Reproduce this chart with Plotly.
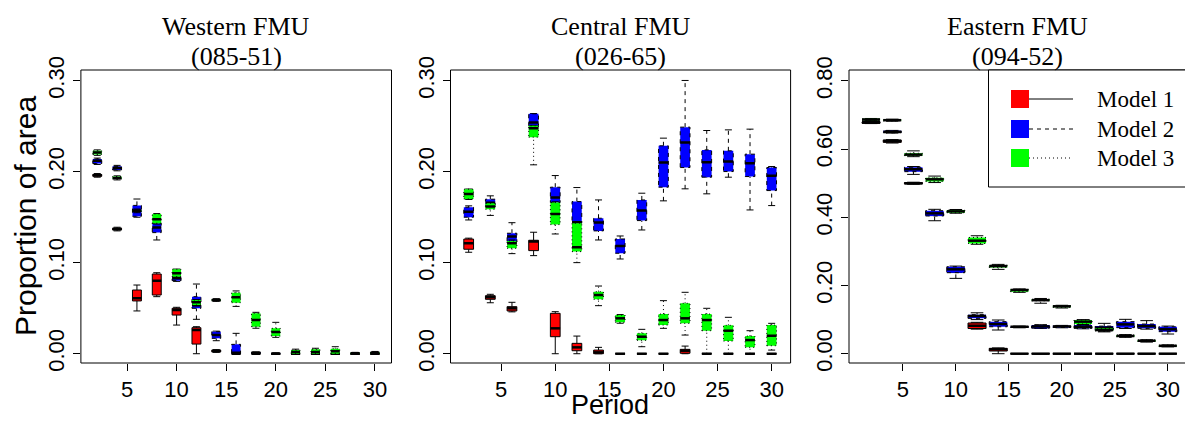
import plotly.graph_objects as go

PERIODS = list(range(2, 31, 2))

# ---- Western FMU (085-51) ----
west_m1_lo  = [.194, .135, .047, .0627, .0315, 0, .0015, 0, 0, 0, 0, 0, 0, 0, 0]
west_m1_q1  = [.195, .136, .058, .0645, .0425, .0106, .002, 0, 0, 0, 0, 0, 0, 0, 0]
west_m1_med = [.196, .137, .061, .0803, .048, .026, .003, 0, 0, 0, 0, 0, 0, 0, 0]
west_m1_q3  = [.197, .138, .070, .0876, .0499, .0286, .004, 0, 0, 0, 0, 0, 0, 0, 0]
west_m1_hi  = [.198, .139, .0755, .089, .051, .0297, .0045, 0, 0, 0, 0, 0, 0, 0, 0]

west_m2_lo  = [.208, .201, .150, .125, .0795, .0378, .0143, 0, 0, 0, 0, 0, 0, 0, 0]
west_m2_q1  = [.209, .202, .151, .1331, .0803, .0499, .0169, 0, .0005, 0, 0, 0, 0, 0, 0]
west_m2_med = [.212, .204, .157, .1386, .083, .0535, .0205, .001, .001, 0, 0, 0, 0, 0, 0]
west_m2_q3  = [.214, .206, .163, .1434, .0847, .0627, .0242, .0103, .0015, .0005, 0, 0, 0, 0, 0]
west_m2_hi  = [.215, .207, .170, .1445, .085, .0766, .0248, .0224, .002, .001, 0, 0, 0, 0, 0]

west_m3_lo  = [.218, .191, .155, .1425, .0835, .0525, .0575, .052, .028, .018, 0, 0, 0, 0, 0]
west_m3_q1  = [.219, .192, .156, .1434, .0847, .0535, .058, .0561, .0297, .0194, 0, 0, 0, 0, 0]
west_m3_med = [.221, .193, .157, .1478, .0884, .0565, .059, .062, .037, .024, .002, .002, .0026, .0005, .001]
west_m3_q3  = [.223, .1947, .158, .1536, .0928, .059, .060, .0671, .0444, .0279, .004, .0048, .0055, .001, .002]
west_m3_hi  = [.224, .1955, .159, .154, .093, .0595, .0605, .069, .0455, .0345, .005, .006, .0077, .0015, .0025]

# ---- Central FMU (026-65) ----
cent_m1_lo  = [.1115, .056, .046, .1078, 0, 0, 0, 0, 0, 0, 0, 0, 0, 0, 0]
cent_m1_q1  = [.1148, .0598, .047, .1133, .0187, .0033, 0, 0, 0, 0, .0005, 0, 0, 0, 0]
cent_m1_med = [.1214, .062, .0499, .1232, .0279, .007, .0015, 0, 0, 0, .0033, 0, 0, 0, 0]
cent_m1_q3  = [.126, .0638, .0517, .1247, .0444, .0114, .004, 0, 0, 0, .0048, 0, 0, 0, 0]
cent_m1_hi  = [.127, .0653, .0565, .1335, .0462, .0194, .007, 0, 0, 0, .0084, 0, 0, 0, 0]

cent_m2_lo  = [.147, .1625, .1225, .248, .160, .140, .125, .1041, .136, .168, .1812, .1757, .194, .158, .1628]
cent_m2_q1  = [.150, .163, .1232, .2505, .1661, .1434, .135, .1104, .1463, .183, .2046, .194, .2002, .1947, .1793]
cent_m2_med = [.156, .166, .1287, .2541, .1716, .1445, .1441, .1184, .1573, .2101, .2321, .2105, .2112, .2094, .1955]
cent_m2_q3  = [.161, .1698, .1324, .2637, .183, .1672, .1489, .1261, .169, .2285, .249, .224, .223, .2193, .2046]
cent_m2_hi  = [.1625, .1735, .144, .264, .1958, .1826, .169, .1294, .1764, .2369, .3003, .2453, .246, .2468, .2057]

cent_m3_lo  = [.1695, .152, .110, .2076, .1316, .1001, .0528, .0335, .0077, .0279, .0205, 0, 0, 0, .004]
cent_m3_q1  = [.1701, .1588, .1159, .238, .1419, .1122, .0598, .0345, .0147, .0315, .0334, .0253, .0139, .007, .0088]
cent_m3_med = [.1755, .1617, .1214, .2479, .1536, .117, .0645, .0389, .0187, .037, .0389, .037, .0253, .015, .0198]
cent_m3_q3  = [.1808, .1654, .124, .2505, .1661, .1434, .0682, .0425, .0224, .0436, .0554, .0436, .0312, .0194, .0315]
cent_m3_hi  = [.181, .166, .125, .251, .167, .144, .0744, .043, .0268, .0583, .0675, .0499, .040, .0253, .0334]

# ---- Eastern FMU (094-52) ----
east_m1_lo  = [.675, .618, .497, .405, .238, .072, 0, 0, 0, 0, 0, 0, 0, 0, 0]
east_m1_q1  = [.676, .620, .498, .406, .240, .074, .0079, 0, 0, 0, 0, 0, 0, 0, 0]
east_m1_med = [.678, .6235, .500, .409, .245, .082, .0128, 0, 0, 0, 0, 0, 0, 0, 0]
east_m1_q3  = [.680, .627, .502, .412, .250, .090, .0157, 0, 0, 0, 0, 0, 0, 0, 0]
east_m1_hi  = [.681, .628, .503, .413, .252, .092, .017, 0, 0, 0, 0, 0, 0, 0, 0]

east_m2_lo  = [.678, .647, .526, .390, .221, .100, .0695, .076, .074, .076, .073, .066, .074, .072, .0577]
east_m2_q1  = [.679, .648, .534, .404, .2376, .1037, .079, .077, .075, .077, .0744, .0695, .0764, .0744, .0646]
east_m2_med = [.680, .651, .541, .4117, .2475, .1106, .087, .079, .080, .080, .079, .0764, .086, .081, .0715]
east_m2_q3  = [.681, .654, .547, .4195, .255, .1145, .094, .080, .084, .082, .084, .081, .094, .087, .079]
east_m2_hi  = [.682, .655, .549, .4235, .257, .120, .0988, .081, .085, .083, .086, .089, .1008, .097, .081]

east_m3_lo  = [.684, .682, .578, .502, .412, .321, .2474, .180, .148, .134, .085, .064, .048, .034, .020]
east_m3_q1  = [.685, .683, .581, .505, .4136, .3236, .253, .182, .155, .136, .087, .0666, .050, .036, .021]
east_m3_med = [.687, .685, .584, .5115, .4175, .3315, .257, .1868, .157, .139, .094, .0695, .052, .038, .023]
east_m3_q3  = [.689, .687, .588, .516, .4214, .341, .260, .1887, .160, .141, .0988, .0744, .055, .040, .025]
east_m3_hi  = [.690, .688, .595, .521, .423, .346, .262, .190, .162, .142, .100, .076, .056, .041, .026]

X_TICKS = [5, 10, 15, 20, 25, 30]
MODEL_NAMES = ["Model 1", "Model 2", "Model 3"]
MODEL_COLORS = ["#FF0000", "#0000FF", "#00FF00"]
LINE_DASH = ["solid", "4px,4px", "1px,3px"]

FIG_W, FIG_H = 1185, 422
SANS = "Liberation Sans, Arial, sans-serif"
SERIF = "Liberation Serif, Times New Roman, serif"
PLOT_TOP, PLOT_BOTTOM = 70, 363


def px(x):
    return x / FIG_W


def py(y):
    return 1 - y / FIG_H


panels = [
    dict(title=("Western FMU", "(085-51)"),
         stats=[(west_m1_lo, west_m1_q1, west_m1_med, west_m1_q3, west_m1_hi),
                (west_m2_lo, west_m2_q1, west_m2_med, west_m2_q3, west_m2_hi),
                (west_m3_lo, west_m3_q1, west_m3_med, west_m3_q3, west_m3_hi)],
         dom=(80.9, 391.5), xr=(0.35, 31.67), yr=(-0.0102, 0.3118),
         yt=[0, 0.1, 0.2, 0.3], bw=0.9, cap=5, closed=True, cx=236),
    dict(title=("Central FMU", "(026-65)"),
         stats=[(cent_m1_lo, cent_m1_q1, cent_m1_med, cent_m1_q3, cent_m1_hi),
                (cent_m2_lo, cent_m2_q1, cent_m2_med, cent_m2_q3, cent_m2_hi),
                (cent_m3_lo, cent_m3_q1, cent_m3_med, cent_m3_q3, cent_m3_hi)],
         dom=(450.5, 790.6), xr=(0.32, 31.75), yr=(-0.0102, 0.3118),
         yt=[0, 0.1, 0.2, 0.3], bw=0.9, cap=5, closed=True, cx=620.5),
    dict(title=("Eastern FMU", "(094-52)"),
         stats=[(east_m1_lo, east_m1_q1, east_m1_med, east_m1_q3, east_m1_hi),
                (east_m2_lo, east_m2_q1, east_m2_med, east_m2_q3, east_m2_hi),
                (east_m3_lo, east_m3_q1, east_m3_med, east_m3_q3, east_m3_hi)],
         dom=(849.0, 1185.0), xr=(-0.08, 31.62), yr=(-0.0273, 0.8322),
         yt=[0, 0.2, 0.4, 0.6, 0.8], bw=1.7, cap=9, closed=False, cx=1017),
]

fig = go.Figure()
annotations = []
shapes = []

for i, pnl in enumerate(panels):
    sfx = "" if i == 0 else str(i + 1)
    xa, ya = "x" + sfx, "y" + sfx
    half = pnl["bw"] / 2
    for m, (lo, q1, med, q3, hi) in enumerate(pnl["stats"]):
        # whiskers, beneath the box of the same model
        wx, wy = [], []
        for p, a, b, c, d in zip(PERIODS, lo, q1, q3, hi):
            wx += [p, p, None, p, p, None]
            wy += [a, b, None, c, d, None]
        fig.add_trace(go.Scatter(
            x=wx, y=wy, mode="lines", xaxis=xa, yaxis=ya,
            line=dict(color="black", width=1, dash=LINE_DASH[m]),
            showlegend=False, hoverinfo="skip", zorder=3 * m))
        fig.add_trace(go.Scatter(
            x=PERIODS + PERIODS, y=list(lo) + list(hi), mode="markers",
            xaxis=xa, yaxis=ya,
            marker=dict(symbol="line-ew", size=pnl["cap"],
                        line=dict(color="black", width=1)),
            showlegend=False, hoverinfo="skip", zorder=3 * m))
        # filled interquartile boxes
        fig.add_trace(go.Box(
            x=PERIODS, q1=q1, median=med, q3=q3,
            lowerfence=q1, upperfence=q3, width=pnl["bw"],
            fillcolor=MODEL_COLORS[m],
            line=dict(color=MODEL_COLORS[m], width=0),
            boxpoints=False, xaxis=xa, yaxis=ya, name=MODEL_NAMES[m],
            showlegend=False, hoverinfo="skip", zorder=3 * m + 1))
        # box outlines in the model's line type
        bx, by = [], []
        for p, b, c in zip(PERIODS, q1, q3):
            bx += [p - half, p + half, p + half, p - half, p - half, None]
            by += [b, b, c, c, b, None]
        fig.add_trace(go.Scatter(
            x=bx, y=by, mode="lines", xaxis=xa, yaxis=ya,
            line=dict(color="black", width=1, dash=LINE_DASH[m]),
            showlegend=False, hoverinfo="skip", zorder=3 * m + 2))
        # thick median bars
        mx, my = [], []
        for p, v in zip(PERIODS, med):
            mx += [p - half, p + half, None]
            my += [v, v, None]
        fig.add_trace(go.Scatter(
            x=mx, y=my, mode="lines", xaxis=xa, yaxis=ya,
            line=dict(color="black", width=2.5),
            showlegend=False, hoverinfo="skip", zorder=3 * m + 2))

    axis_common = dict(showline=False, showgrid=False, zeroline=False,
                       automargin=False, ticks="outside", ticklen=7,
                       tickwidth=1, tickcolor="black",
                       tickfont=dict(family=SANS, size=22, color="black"))
    fig.layout["xaxis" + sfx] = dict(
        domain=[px(pnl["dom"][0]), px(pnl["dom"][1])], range=list(pnl["xr"]),
        anchor=ya, tickvals=X_TICKS, ticktext=[str(t) for t in X_TICKS],
        **axis_common)
    fig.layout["yaxis" + sfx] = dict(
        domain=[py(PLOT_BOTTOM), py(PLOT_TOP)], range=list(pnl["yr"]),
        anchor=xa, tickvals=pnl["yt"], tickformat=".2f", tickangle=-90,
        **axis_common)

    # panel frame
    frame = dict(xref=xa + " domain", yref=ya + " domain", layer="above",
                 line=dict(color="black", width=1))
    if pnl["closed"]:
        shapes.append(dict(type="rect", x0=0, x1=1, y0=0, y1=1, **frame))
    else:
        shapes.append(dict(type="path", path="M 1,0 L 0,0 L 0,1 L 1,1",
                           **frame))

    annotations.append(dict(
        text=pnl["title"][0], x=px(pnl["cx"]), y=py(27), xref="paper",
        yref="paper", showarrow=False, xanchor="center", yanchor="middle",
        font=dict(family=SERIF, size=26, color="black")))
    annotations.append(dict(
        text=pnl["title"][1], x=px(pnl["cx"]), y=py(56), xref="paper",
        yref="paper", showarrow=False, xanchor="center", yanchor="middle",
        font=dict(family=SERIF, size=26, color="black")))

# shared axis titles
annotations.append(dict(
    text="Proportion of area", x=px(26), y=py(216), xref="paper", yref="paper",
    showarrow=False, textangle=-90, xanchor="center", yanchor="middle",
    font=dict(family=SANS, size=30, color="black")))
annotations.append(dict(
    text="Period", x=px(610), y=py(405), xref="paper", yref="paper",
    showarrow=False, xanchor="center", yanchor="middle",
    font=dict(family=SANS, size=27, color="black")))

# legend box in the Eastern panel
shapes.append(dict(type="rect", xref="paper", yref="paper",
                   x0=px(988.5), x1=px(1200), y0=py(187), y1=py(70),
                   line=dict(color="black", width=1), fillcolor="white",
                   layer="above"))
for m, cy in enumerate([99, 129, 158]):
    shapes.append(dict(type="rect", xref="paper", yref="paper",
                       x0=px(1011), x1=px(1029), y0=py(cy + 9), y1=py(cy - 9),
                       line=dict(width=0), fillcolor=MODEL_COLORS[m],
                       layer="above"))
    shapes.append(dict(type="line", xref="paper", yref="paper",
                       x0=px(1029), x1=px(1073), y0=py(cy), y1=py(cy),
                       line=dict(color="black", width=1, dash=LINE_DASH[m]),
                       layer="above"))
    annotations.append(dict(
        text=MODEL_NAMES[m], x=px(1095), y=py(cy), xref="paper", yref="paper",
        showarrow=False, xanchor="left", yanchor="middle",
        font=dict(family=SERIF, size=23, color="black")))

fig.update_layout(
    width=FIG_W, height=FIG_H, margin=dict(l=0, r=0, t=0, b=0),
    paper_bgcolor="white", plot_bgcolor="white", boxmode="overlay",
    showlegend=False, annotations=annotations, shapes=shapes)

fig.write_html("out.html")
